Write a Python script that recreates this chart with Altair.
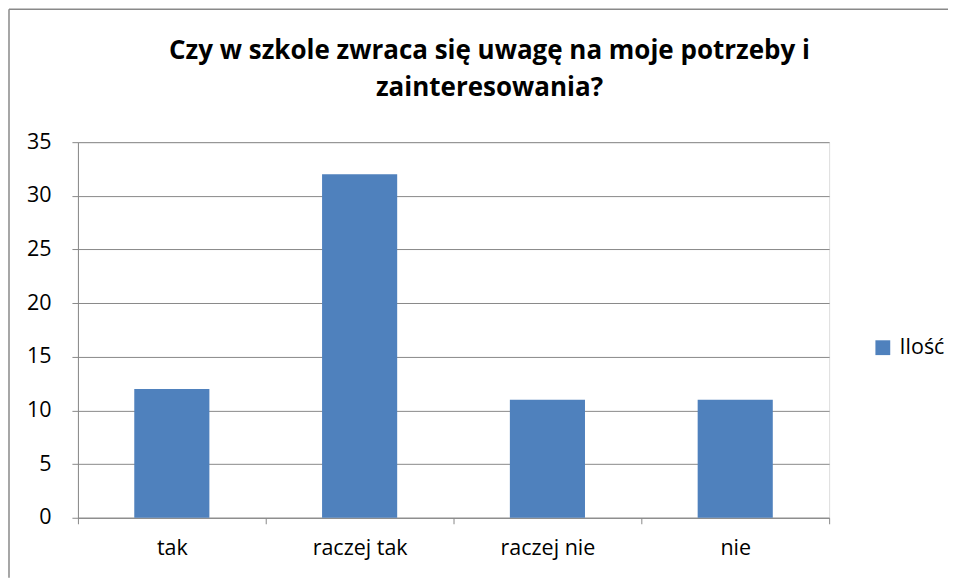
import altair as alt
import pandas as pd

categories = ["tak", "raczej tak", "raczej nie", "nie"]
values = [12, 32, 11, 11]
series_name = "Ilość"
title_lines = ["Czy w szkole zwraca się uwagę na moje potrzeby i", "zainteresowania?"]

df = pd.DataFrame({"kategoria": categories, "wartosc": values, "seria": [series_name] * len(categories)})

FONT = "Open Sans"
GRAY = "#898989"
LABEL_SIZE = 21.5

bars = alt.Chart(df).mark_bar(color="#4F81BD", width=alt.RelativeBandSize(0.4)).encode(
    x=alt.X("kategoria:N", sort=categories, title=None,
            scale=alt.Scale(paddingInner=0, paddingOuter=0),
            axis=alt.Axis(labelAngle=0, tickBand="extent", grid=False, domainColor=GRAY,
                          tickColor=GRAY, tickSize=6, labelPadding=14, labelFontSize=LABEL_SIZE,
                          labelFont=FONT, labelColor="black")),
    y=alt.Y("wartosc:Q", title=None,
            scale=alt.Scale(domain=[0, 35]),
            axis=alt.Axis(values=[0, 5, 10, 15, 20, 25, 30, 35], grid=True, gridColor=GRAY,
                          domainColor=GRAY, tickColor=GRAY, tickSize=6, labelPadding=21,
                          labelFontSize=LABEL_SIZE, labelFont=FONT, labelColor="black")),
    color=alt.Color("seria:N", scale=alt.Scale(range=["#4F81BD"]),
                    legend=alt.Legend(title=None, orient="none", legendX=795, legendY=195,
                                      symbolType="square", symbolSize=220, labelFontSize=LABEL_SIZE,
                                      labelFont=FONT, labelColor="black", labelOffset=6)),
)

frame = pd.DataFrame({"b": [0]})
left_border = alt.Chart(frame).mark_rule(color=GRAY, strokeWidth=1.5).encode(
    x=alt.value(-69), y=alt.value(-133), y2=alt.value(436)
)
top_border = alt.Chart(frame).mark_rule(color=GRAY, strokeWidth=1.5).encode(
    x=alt.value(-69), x2=alt.value(871), y=alt.value(-133)
)
title = alt.Chart(frame).mark_text(
    text=title_lines, font=FONT, fontSize=26, fontWeight="bold", color="black",
    lineHeight=37, baseline="alphabetic", align="center"
).encode(x=alt.value(412), y=alt.value(-83))

chart = alt.layer(left_border, top_border, title, bars).properties(
    width=752, height=376,
    padding=0,
).configure_view(stroke=None).configure(background="white")

chart.save("out.html", embed_options={"renderer": "svg", "actions": False})
